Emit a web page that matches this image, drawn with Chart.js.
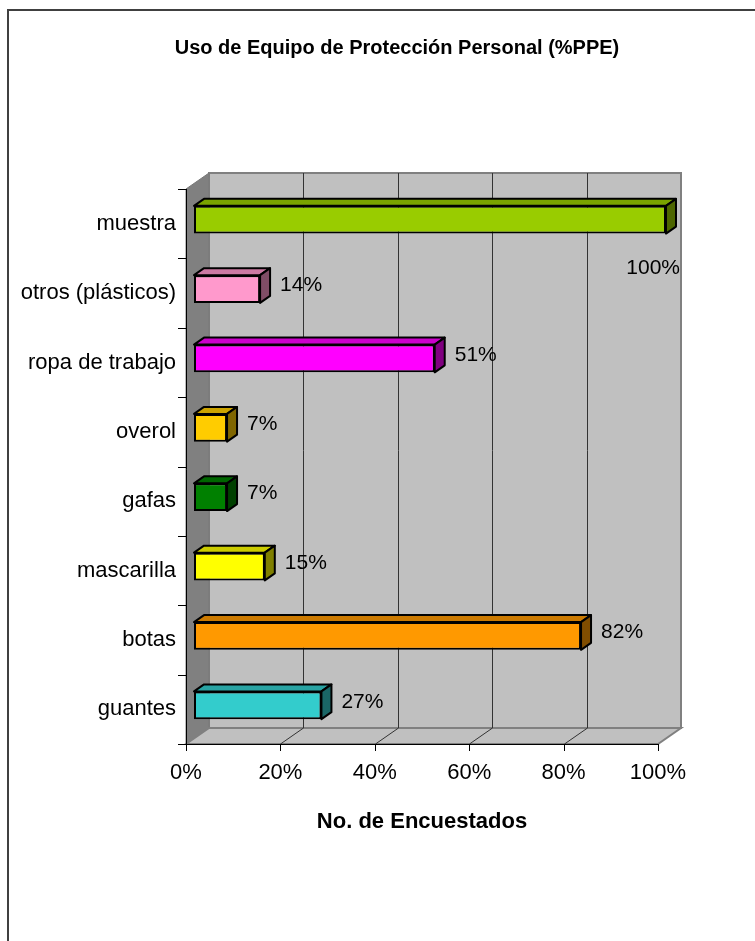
<!DOCTYPE html>
<html>
<head>
<meta charset="utf-8">
<title>Uso de Equipo de Protección Personal</title>
<script src="https://cdn.jsdelivr.net/npm/chart.js@4.4.0/dist/chart.umd.min.js"></script>
<style>
  html, body { margin:0; padding:0; background:#fff; }
  #wrap { width:755px; height:941px; }
</style>
</head>
<body>
<div id="wrap"><canvas id="ppeChart" width="755" height="941"></canvas></div>
<script>
// chart data
var categories = ['muestra', 'otros (plásticos)', 'ropa de trabajo', 'overol', 'gafas', 'mascarilla', 'botas', 'guantes'];
var values = [100, 14, 51, 7, 7, 15, 82, 27];
var barColors = ['#99CC00', '#FF99CC', '#FF00FF', '#FFCC00', '#008000', '#FFFF00', '#FF9900', '#33CCCC'];
var xTicks = [0, 20, 40, 60, 80, 100];

var FONT = '"Liberation Sans", Arial, sans-serif';
// 3d look: wall depth and bar depth / offset
var WALL_DX = 23, WALL_DY = -16;
var BAR_OFF_X = 8, BAR_OFF_Y = -4;
var BAR_DX = 10, BAR_DY = -7;

function shade(hex, f){
  var n = parseInt(hex.slice(1), 16);
  var r = Math.round(((n >> 16) & 255) * f), g = Math.round(((n >> 8) & 255) * f), b = Math.round((n & 255) * f);
  return 'rgb(' + r + ',' + g + ',' + b + ')';
}

function poly(ctx, pts, fill, stroke, lw){
  ctx.beginPath();
  ctx.moveTo(pts[0][0], pts[0][1]);
  for (var i = 1; i < pts.length; i++) ctx.lineTo(pts[i][0], pts[i][1]);
  ctx.closePath();
  if (fill) { ctx.fillStyle = fill; ctx.fill(); }
  if (stroke) { ctx.strokeStyle = stroke; ctx.lineWidth = lw || 1; ctx.stroke(); }
}

var threeD = {
  id: 'threeD',
  beforeDraw: function(chart){
    var ctx = chart.ctx, a = chart.chartArea, xs = chart.scales.x;
    ctx.save();
    ctx.fillStyle = '#fff';
    ctx.fillRect(0, 0, chart.width, chart.height);
    // outer chart frame
    ctx.strokeStyle = '#404040'; ctx.lineWidth = 2;
    ctx.beginPath(); ctx.moveTo(8, chart.height); ctx.lineTo(8, 10); ctx.lineTo(chart.width, 10); ctx.stroke();

    var L = a.left, R = a.right, T = a.top, B = a.bottom;
    // back wall
    poly(ctx, [[L + WALL_DX, T + WALL_DY], [R + WALL_DX, T + WALL_DY], [R + WALL_DX, B + WALL_DY], [L + WALL_DX, B + WALL_DY]], '#C0C0C0', '#808080', 2);
    // side wall
    poly(ctx, [[L, T], [L + WALL_DX, T + WALL_DY], [L + WALL_DX, B + WALL_DY], [L, B]], '#808080', '#787878', 1);
    // floor
    poly(ctx, [[L, B], [R, B], [R + WALL_DX, B + WALL_DY], [L + WALL_DX, B + WALL_DY]], '#C0C0C0', '#808080', 2);

    // gridlines on wall and floor
    ctx.strokeStyle = '#333'; ctx.lineWidth = 1;
    xTicks.forEach(function(v){
      if (v === 0 || v === 100) return;
      var px = Math.round(xs.getPixelForValue(v)) + 0.5;
      ctx.beginPath();
      ctx.moveTo(px + WALL_DX, T + WALL_DY); ctx.lineTo(px + WALL_DX, B + WALL_DY);
      ctx.lineTo(px, B);
      ctx.stroke();
    });
    ctx.restore();
  },
  beforeDatasetsDraw: function(chart){
    chart.ctx.save();
    chart.ctx.translate(BAR_OFF_X, BAR_OFF_Y);
  },
  afterDatasetsDraw: function(chart){
    var ctx = chart.ctx, a = chart.chartArea, xs = chart.scales.x, ys = chart.scales.y;
    var meta = chart.getDatasetMeta(0);
    meta.data.forEach(function(bar, i){
      var p = bar.getProps(['x', 'y', 'base', 'height'], true);
      var top = p.y - p.height / 2, bot = p.y + p.height / 2;
      ctx.lineJoin = 'round';
      poly(ctx, [[p.base, top], [p.x, top], [p.x + BAR_DX, top + BAR_DY], [p.base + BAR_DX, top + BAR_DY]], shade(barColors[i], 0.8), '#000', 2);
      poly(ctx, [[p.x, top], [p.x + BAR_DX, top + BAR_DY], [p.x + BAR_DX, bot + BAR_DY], [p.x, bot]], shade(barColors[i], 0.5), '#000', 2);
    });
    ctx.restore();

    // axis lines and tick marks on the front plane
    ctx.save();
    ctx.strokeStyle = '#000'; ctx.lineWidth = 1;
    ctx.beginPath();
    ctx.moveTo(a.left + 0.5, a.top); ctx.lineTo(a.left + 0.5, a.bottom + 6);
    ctx.moveTo(a.left - 8, a.bottom + 0.5); ctx.lineTo(a.right, a.bottom + 0.5);
    xTicks.forEach(function(v){
      var px = Math.round(xs.getPixelForValue(v)) + 0.5;
      ctx.moveTo(px, a.bottom); ctx.lineTo(px, a.bottom + 7);
    });
    var band = (a.bottom - a.top) / categories.length;
    for (var k = 0; k < categories.length; k++) {
      var py = Math.round(a.top + band * k) + 0.5;
      ctx.moveTo(a.left - 8, py); ctx.lineTo(a.left, py);
    }
    ctx.stroke();

    ctx.fillStyle = '#000';
    ctx.textBaseline = 'middle';
    // category labels (y scale positions)
    ctx.font = '22px ' + FONT;
    ctx.textAlign = 'right';
    categories.forEach(function(c, i){
      ctx.fillText(c, a.left - 10, ys.getPixelForValue(i));
    });

    // value labels
    ctx.font = '21px ' + FONT;
    var wallRight = xs.getPixelForValue(100) + WALL_DX;
    meta.data.forEach(function(bar, i){
      var p = bar.getProps(['x', 'y'], true);
      var txt = values[i] + '%';
      var lx = p.x + BAR_OFF_X + BAR_DX + 10;
      var ly = p.y + BAR_OFF_Y + BAR_DY / 2;
      if (lx + ctx.measureText(txt).width > wallRight) {
        ctx.textAlign = 'right';
        ctx.fillText(txt, wallRight - 1, ly + 52);
      } else {
        ctx.textAlign = 'left';
        ctx.fillText(txt, lx, ly);
      }
    });
    ctx.restore();
  }
};

new Chart(document.getElementById('ppeChart'), {
  type: 'bar',
  data: {
    labels: categories,
    datasets: [{
      label: 'PPE',
      data: values,
      backgroundColor: barColors,
      borderColor: '#000',
      borderWidth: 2,
      borderSkipped: false,
      barPercentage: 0.4,
      categoryPercentage: 1
    }]
  },
  options: {
    indexAxis: 'y',
    responsive: false,
    animation: false,
    devicePixelRatio: 1,
    layout: { padding: { left: 136, right: 97, top: 0, bottom: 0 } },
    plugins: {
      legend: { display: false },
      tooltip: { enabled: false },
      title: {
        display: true,
        text: 'Uso de Equipo de Protección Personal (%PPE)',
        color: '#000',
        font: { family: FONT, size: 20, weight: 'bold' },
        padding: { top: 36, bottom: 129 }
      }
    },
    scales: {
      x: {
        min: 0, max: 100,
        afterBuildTicks: function(s){ s.ticks = xTicks.map(function(v){ return { value: v }; }); },
        afterFit: function(s){ s.height = 197; },
        grid: { display: false, drawTicks: false },
        border: { display: false },
        ticks: { color: '#000', padding: 16, font: { family: FONT, size: 22 }, callback: function(v){ return v + '%'; } },
        title: { display: true, text: 'No. de Encuestados', color: '#000', font: { family: FONT, size: 22, weight: 'bold' }, padding: { top: 0, bottom: 106 } }
      },
      y: {
        afterFit: function(s){ s.width = 50; },
        grid: { display: false, drawTicks: false },
        border: { display: false },
        ticks: { display: false }
      }
    }
  },
  plugins: [threeD]
});
</script>
</body>
</html>
